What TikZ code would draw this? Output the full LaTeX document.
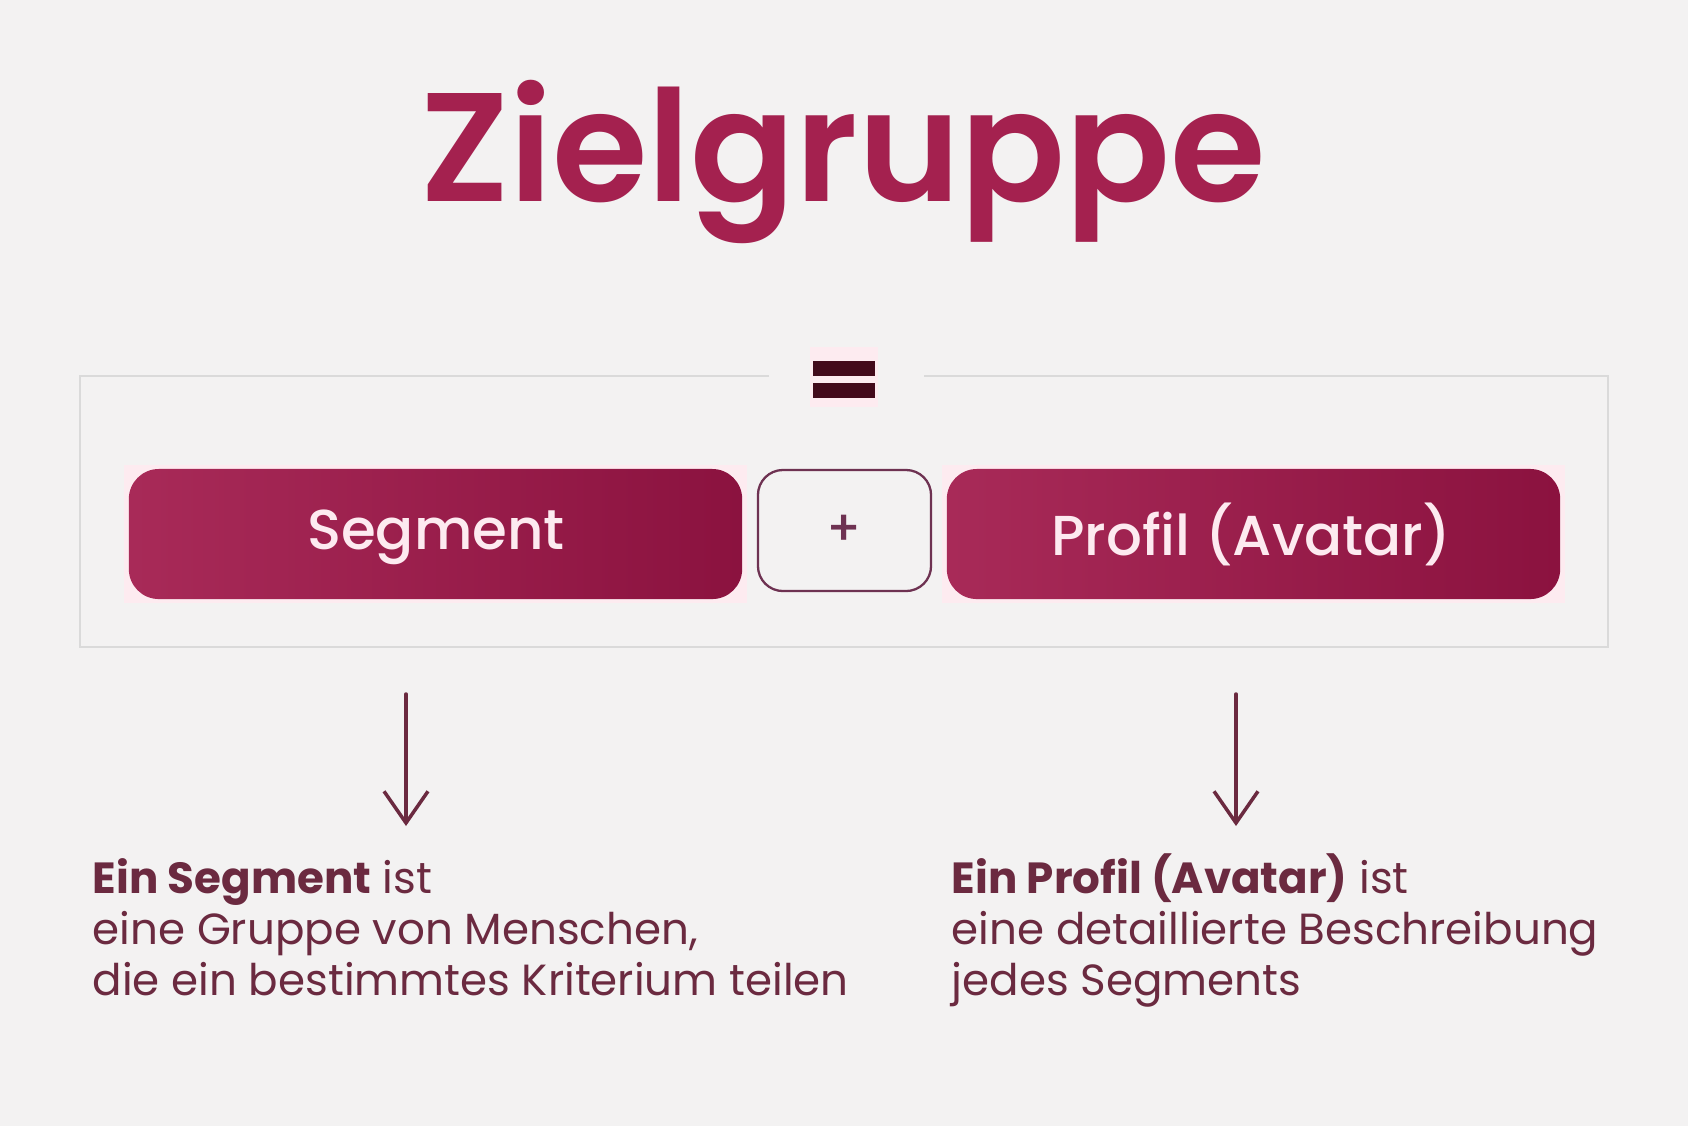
\documentclass[tikz,border=0pt]{standalone}
\usepackage{fontspec}
\setmainfont{Poppins}
\newfontfamily\headfont{Poppins SemiBold}
\newfontfamily\midfont{Poppins Medium}
\usetikzlibrary{arrows.meta,positioning}
\definecolor{bgc}{HTML}{F3F2F2}
\definecolor{wine}{HTML}{A4214F}
\definecolor{wineL}{HTML}{A82A58}
\definecolor{wineR}{HTML}{8B123F}
\definecolor{ink}{HTML}{6B2A40}
\definecolor{rim}{HTML}{DADADA}
\definecolor{halo}{HTML}{FDEBF0}
\definecolor{eqc}{HTML}{430A1B}
\definecolor{lbl}{HTML}{FDEAF0}
\definecolor{plusc}{HTML}{6E3252}
\tikzset{
  pill/.style={rounded corners=0.3cm, shading=axis, left color=wineL, right color=wineR,
    minimum width=6.13cm, minimum height=1.3cm, inner sep=0pt},
  pilltext/.style={text=lbl, font=\midfont\fontsize{16}{19}\selectfont, inner sep=0pt},
  plusbox/.style={draw=plusc, line width=0.65pt, rounded corners=0.25cm,
    minimum width=1.73cm, minimum height=1.21cm, text=plusc, font=\midfont\fontsize{14}{16}\selectfont},
  pointer/.style={ink, line width=1pt, line cap=round,
    -{Straight Barb[length=9pt,width=12.5pt,line width=1pt]}},
  note/.style={text=ink, align=left, inner sep=0pt, anchor=base west,
    font=\fontsize{12.4}{14.5}\selectfont},
}

\begin{document}
\begin{tikzpicture}[x=0.01cm, y=-0.01cm]
 \fill[bgc] (0,0) rectangle (1688,1126);
 \useasboundingbox (0,0) rectangle (1688,1126);
 % title
 \node[text=wine, inner sep=0pt, anchor=base, font=\headfont\fontsize{44}{53}\selectfont]
   (title) at (843,201) {Zielgruppe};
 % frame with gap for the equals sign
 \draw[rim, line width=0.45pt] (769,376) -- (80,376) -- (80,647) -- (1608,647) -- (1608,376) -- (924,376);
 \fill[halo] (810,347) rectangle (878,407);
 \node[fill=eqc, inner sep=0pt, minimum width=0.62cm, minimum height=0.15cm] (eqa) at (844,368.5) {};
 \node[fill=eqc, inner sep=0pt, minimum width=0.62cm, minimum height=0.15cm] (eqb) at (844,390.5) {};
 % boxes
 \fill[halo] (124,465) rectangle (747,603);
 \fill[halo] (942,465) rectangle (1565,603);
 \node[pill] (seg) at (435.5,534) {};
 \node[pilltext, anchor=base] (seglbl) at (436,549) {Segment};
 \node[plusbox] (plus) at (844.5,530.5) {\raisebox{-1.5pt}{+}};
 \node[pill] (prof) at (1253.5,534) {};
 \node[pilltext, anchor=base] (proflbl) at (1251,555) {Profil (Avatar)};
 % arrows
 \coordinate (s1) at (406,694);
 \coordinate (s2) at (406,826);
 \coordinate (p1) at (1236,694);
 \coordinate (p2) at (1236,826);
 \draw[pointer] (s1) -- (s2);
 \draw[pointer] (p1) -- (p2);
 % notes (base = last line)
 \node[note] (segtxt) at (92,995) {\textbf{Ein Segment} ist\\eine Gruppe von Menschen,\\die ein bestimmtes Kriterium teilen};
 \node[note] (proftxt) at (951,995) {\textbf{Ein Profil (Avatar)} ist\\eine detaillierte Beschreibung\\jedes Segments};
\end{tikzpicture}
\end{document}
